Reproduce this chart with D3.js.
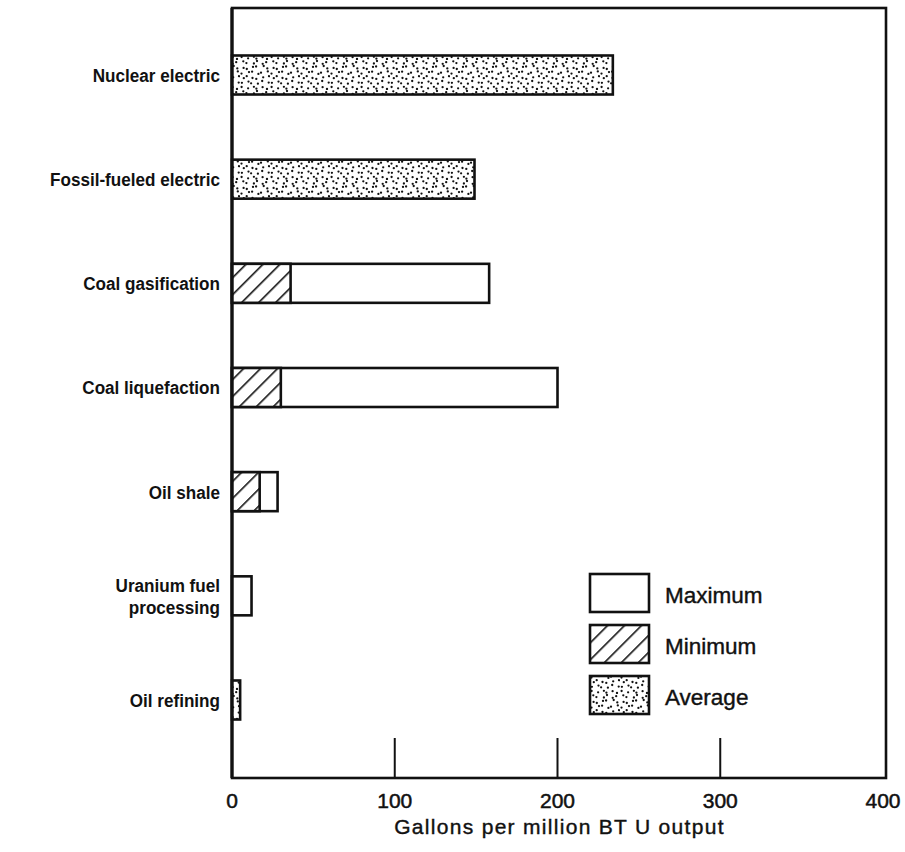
<!DOCTYPE html>
<html>
<head>
<meta charset="utf-8">
<script src="https://cdn.jsdelivr.net/npm/d3@7"></script>
<style>
  body { margin: 0; background: #fff; }
  svg text { font-family: "Liberation Sans", Arial, sans-serif; fill: #111; }
</style>
</head>
<body>
<div id="chart"></div>
<script>
// values (gallons per million BTU output)
var categories = ["Nuclear electric", "Fossil-fueled electric", "Coal gasification",
                  "Coal liquefaction", "Oil shale", "Uranium fuel processing", "Oil refining"];
var maximumValues = [null, null, 158, 200, 28, 12, null];
var minimumValues = [null, null, 36, 30, 17, null, null];
var averageValues = [234, 149, null, null, null, null, 5];
var xTicks = [0, 100, 200, 300, 400];
var legendItems = ["Maximum", "Minimum", "Average"];

var width = 905, height = 852;
var margin = {top: 8, right: 20, bottom: 74, left: 232};

var svg = d3.select("#chart").append("svg")
    .attr("width", width)
    .attr("height", height);

var defs = svg.append("defs");

// diagonal hatch for "Minimum"
var hatch = defs.append("pattern")
    .attr("id", "hatch")
    .attr("patternUnits", "userSpaceOnUse")
    .attr("width", 12).attr("height", 12)
    .attr("patternTransform", "rotate(45)");
hatch.append("rect").attr("width", 12).attr("height", 12).attr("fill", "#fff");
hatch.append("line")
    .attr("x1", 0).attr("y1", 0).attr("x2", 0).attr("y2", 12)
    .attr("stroke", "#111").attr("stroke-width", 3.2);

// stipple for "Average": jittered 6x6 grid of dots in a 30px tile
var jitter = [[0.8,-1.2],[-1.1,0.6],[1.4,1.0],[-0.5,-1.4],[0.2,1.3],[-1.3,-0.3],
              [1.1,0.4],[-0.7,1.5],[0.5,-0.6],[-1.4,-1.0],[1.2,-1.5],[-0.2,0.9],
              [-1.0,1.1],[1.5,-0.4],[-0.4,-0.8],[0.9,1.4],[-1.5,0.2],[0.3,-1.1],
              [1.3,0.7],[-0.8,-1.3],[0.0,0.5],[-1.2,1.4],[0.7,-0.2],[1.5,-1.3],
              [-0.6,0.3],[1.0,-0.9],[-1.4,0.8],[0.4,1.2],[-0.3,-1.5],[1.2,0.1],
              [-0.9,-0.5],[0.6,0.8],[1.4,-0.7],[-1.1,1.2],[0.1,-0.3],[-0.5,1.5]];
var stipple = defs.append("pattern")
    .attr("id", "stipple")
    .attr("patternUnits", "userSpaceOnUse")
    .attr("width", 30).attr("height", 30);
stipple.append("rect").attr("width", 30).attr("height", 30).attr("fill", "#fff");
stipple.selectAll("circle").data(jitter).join("circle")
    .attr("cx", (d, i) => (i % 6) * 5 + 2.5 + d[0])
    .attr("cy", (d, i) => Math.floor(i / 6) * 5 + 2.5 + d[1])
    .attr("r", 1.15).attr("fill", "#111");

// scales
var x = d3.scaleLinear()
    .domain([0, 400])
    .range([margin.left, 883]);

var y = d3.scalePoint()
    .domain(categories)
    .range([75, 700]);
var barH = 39;

var plotBottom = height - margin.bottom;

// frame
svg.append("rect")
    .attr("x", x(0)).attr("y", margin.top)
    .attr("width", x(400) + 3 - x(0)).attr("height", plotBottom - margin.top)
    .attr("fill", "none").attr("stroke", "#111").attr("stroke-width", 2.6);

// inner ticks
svg.selectAll(".tick-line").data(xTicks.slice(1, -1)).join("line")
    .attr("class", "tick-line")
    .attr("x1", d => x(d)).attr("x2", d => x(d))
    .attr("y1", plotBottom).attr("y2", plotBottom - 40)
    .attr("stroke", "#111").attr("stroke-width", 2);

// tick labels
svg.selectAll(".tick-label").data(xTicks).join("text")
    .attr("class", "tick-label")
    .attr("x", d => x(d)).attr("y", plotBottom + 30)
    .attr("text-anchor", "middle")
    .attr("font-size", 21)
    .attr("stroke", "#111").attr("stroke-width", 0.5)
    .text(d => d);

svg.append("text")
    .attr("x", (x(100) + x(300)) / 2 + 2).attr("y", plotBottom + 56)
    .attr("text-anchor", "middle")
    .attr("font-size", 21)
    .attr("letter-spacing", 1.3)
    .attr("stroke", "#111").attr("stroke-width", 0.4)
    .text("Gallons per million BT U output");

// bars
var rows = categories.map((c, i) => ({c: c, max: maximumValues[i], min: minimumValues[i], avg: averageValues[i]}));

var g = svg.append("g");
function bar(v, fill, d) {
  g.append("rect")
    .attr("x", x(0)).attr("y", y(d.c) - barH / 2)
    .attr("width", x(v) - x(0)).attr("height", barH)
    .attr("fill", fill).attr("stroke", "#111").attr("stroke-width", 2.6);
}
rows.forEach(function(d) {
  if (d.max != null) bar(d.max, "#fff", d);
  if (d.min != null) bar(d.min, "url(#hatch)", d);
  if (d.avg != null) bar(d.avg, "url(#stipple)", d);
});

// axis line drawn over bars
svg.append("line")
    .attr("x1", x(0)).attr("x2", x(0))
    .attr("y1", margin.top).attr("y2", plotBottom)
    .attr("stroke", "#111").attr("stroke-width", 3.2);

// category labels (slightly condensed, like the original type)
var labelX = 220;
svg.append("g")
    .attr("transform", "translate(" + labelX + ",0) scale(0.9,1)")
  .selectAll(".cat").data(categories).join("text")
    .attr("class", "cat")
    .attr("text-anchor", "end")
    .attr("font-size", 19)
    .attr("font-weight", "bold")
    .each(function(d) {
      var t = d3.select(this);
      var lines = d === "Uranium fuel processing" ? ["Uranium fuel", "processing"] : [d];
      var y0 = y(d) + 7 - (lines.length - 1) * 11;
      lines.forEach(function(l, i) {
        t.append("tspan").attr("x", 0).attr("y", y0 + i * 22).text(l);
      });
    });

// legend
var legendFills = ["#fff", "url(#hatch)", "url(#stipple)"];
var legend = svg.append("g").attr("transform", "translate(590,574)");
legendItems.forEach(function(name, i) {
  legend.append("rect")
    .attr("x", 0).attr("y", i * 51)
    .attr("width", 59).attr("height", 38)
    .attr("fill", legendFills[i]).attr("stroke", "#111").attr("stroke-width", 2.6);
  legend.append("text")
    .attr("x", 75).attr("y", i * 51 + 29)
    .attr("font-size", 22.5)
    .attr("stroke", "#111").attr("stroke-width", 0.4)
    .text(name);
});
</script>
</body>
</html>
